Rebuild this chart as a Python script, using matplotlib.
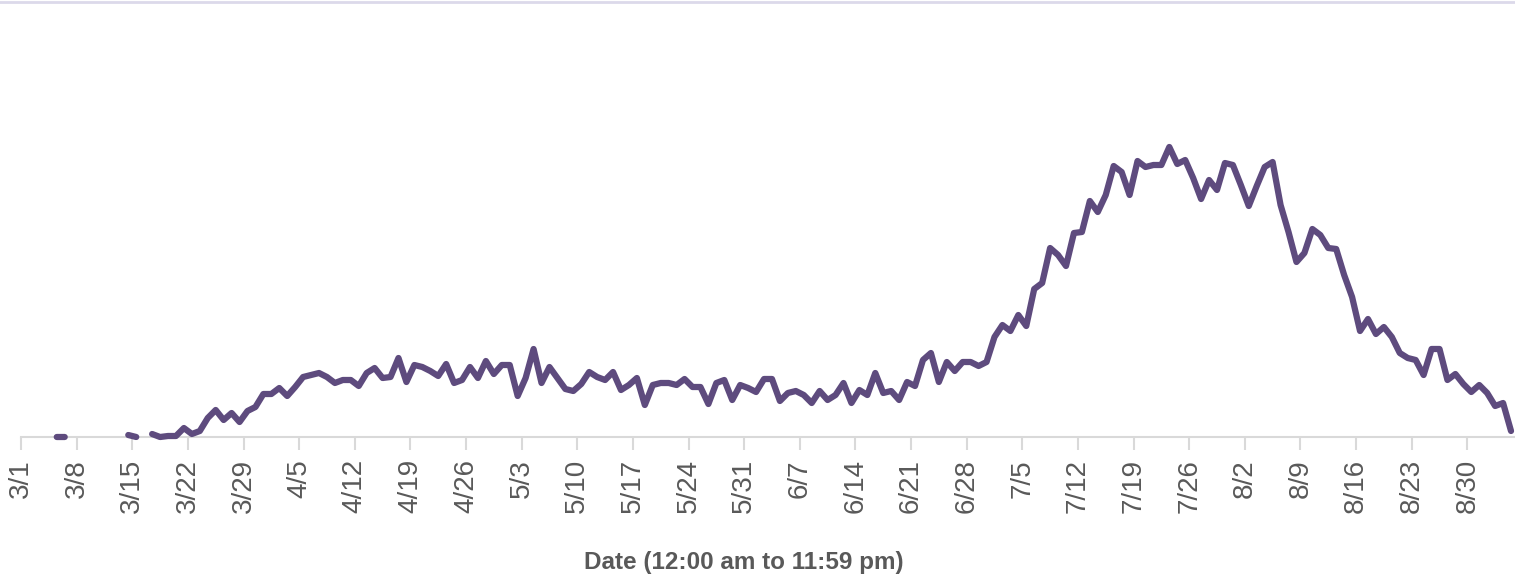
import numpy as np
import matplotlib
matplotlib.use("Agg")
import matplotlib.pyplot as plt
from matplotlib.lines import Line2D
from matplotlib import font_manager
import datetime as dt

# ---- data (daily values, 3/1 .. 9/4; None = no data) ----
start_date = dt.date(2020, 3, 1)
values = [
    None, None, None, None, 0, 0, None, None, None, None,          # 0-9
    None, None, None, 2, 0, None, 3, 0, 1, 1,                      # 10-19
    9, 3, 6, 19, 27, 17, 24, 15, 26, 30,                           # 20-29
    43, 43, 49, 41, 50, 60, 62, 64, 60, 54,                        # 30-39
    57, 57, 51, 64, 69, 59, 60, 79, 55, 72,                        # 40-49
    70, 66, 61, 73, 54, 57, 70, 59, 76, 63,                        # 50-59
    72, 72, 41, 59, 88, 54, 70, 59, 48, 46,                        # 60-69
    53, 65, 60, 57, 65, 47, 52, 59, 32, 52,                        # 70-79
    54, 54, 52, 58, 50, 50, 33, 54, 57, 37,                        # 80-89
    52, 49, 45, 58, 58, 36, 44, 46, 42, 34,                        # 90-99
    46, 37, 42, 54, 34, 47, 42, 64, 44, 46,                        # 100-109
    37, 55, 51, 77, 84, 55, 75, 66, 75, 75,                        # 110-119
    71, 75, 100, 112, 106, 122, 111, 148, 154, 189,                # 120-129
    182, 171, 204, 205, 236, 225, 242, 271, 265, 242,              # 130-139
    276, 270, 272, 272, 290, 273, 277, 259, 238, 257,              # 140-149
    247, 274, 272, 252, 231, 251, 270, 275, 232, 205,              # 150-159
    175, 184, 208, 202, 189, 188, 162, 140, 106, 118,              # 160-169
    103, 110, 100, 84, 79, 77, 62, 88, 88, 57,                     # 170-179
    63, 53, 45, 52, 44, 31, 34, 6,                                 # 180-187
]
tick_every = 7
x_label = "Date (12:00 am to 11:59 pm)"

# ---- fonts ----
names = {f.name for f in font_manager.fontManager.ttflist}
fam = "Liberation Sans" if "Liberation Sans" in names else "DejaVu Sans"
plt.rcParams["font.family"] = [fam, "DejaVu Sans"]

line_color = "#5e4b7e"
grey_text = "#595959"
axis_grey = "#d9d9d9"

n = len(values)
y = np.array([np.nan if v is None else v for v in values], dtype=float)
x = np.arange(n)

W, H = 1515, 583
fig = plt.figure(figsize=(W / 100, H / 100), dpi=100)
ax_left, ax_right, ax_bottom, ax_top = 21, 1515, 437, 10
ax = fig.add_axes([ax_left / W, (H - ax_bottom) / H,
                   (ax_right - ax_left) / W, (ax_bottom - ax_top) / H])

ax.plot(x, y, color=line_color, lw=4.5, solid_capstyle="round",
        solid_joinstyle="round", clip_on=False, zorder=3)

ax.set_xlim(-0.5, n - 0.5)
ax.set_ylim(0, ax_bottom - ax_top)

tick_pos = np.arange(0, n, tick_every)
tick_lbls = []
for d in tick_pos:
    dd = start_date + dt.timedelta(days=int(d))
    tick_lbls.append(f"{dd.month}/{dd.day}")
ax.set_xticks(tick_pos - 0.5)
ax.set_xticklabels(tick_lbls, rotation=90, fontsize=20, color=grey_text)
ax.tick_params(axis="x", length=9, width=1.5, color=axis_grey, pad=7)
ax.set_yticks([])

for s in ["top", "right", "left"]:
    ax.spines[s].set_visible(False)
ax.spines["bottom"].set_color(axis_grey)
ax.spines["bottom"].set_linewidth(1.5)
ax.spines["bottom"].set_zorder(1)

ax.set_xlabel(x_label, fontsize=17.5, color=grey_text, fontweight="bold")
ax.xaxis.set_label_coords((744 - ax_left) / (ax_right - ax_left),
                          -(563 - ax_bottom) / (ax_bottom - ax_top))
ax.xaxis.label.set_va("center")

# thin border line at the top of the figure
fig.add_artist(Line2D([0, 1], [1 - 1.5 / H, 1 - 1.5 / H], transform=fig.transFigure,
                      color="#dcd9ea", lw=2))

fig.savefig("out.png", dpi=100)
